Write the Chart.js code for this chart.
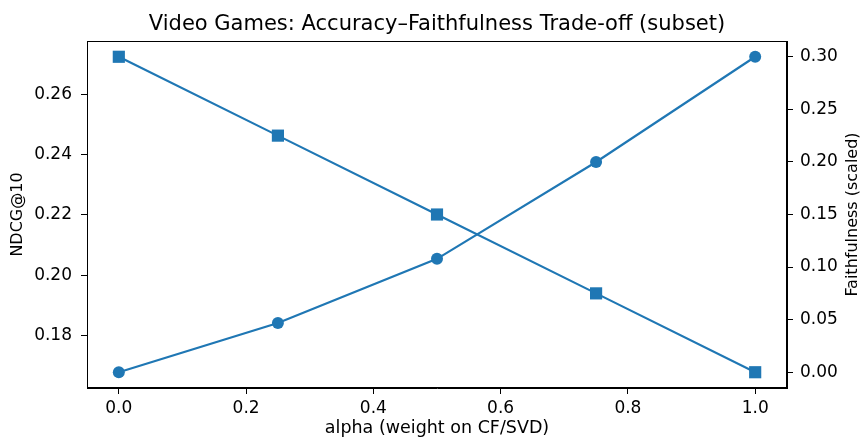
<!DOCTYPE html>
<html>
<head>
<meta charset="utf-8">
<script src="https://cdn.jsdelivr.net/npm/chart.js@4.4.1/dist/chart.umd.min.js"></script>
<style>
  html, body { margin: 0; padding: 0; background: #fff; }
  #wrap { width: 862px; height: 437px; }
</style>
</head>
<body>
<div id="wrap"><canvas id="c" width="862" height="437"></canvas></div>
<script>
const alphas = [0.0, 0.25, 0.5, 0.75, 1.0];
const ndcg = [0.1678, 0.1841, 0.2054, 0.2375, 0.2724];
const faithfulness = [0.30, 0.225, 0.15, 0.075, 0.00];
const xTicks = [0.0, 0.2, 0.4, 0.6, 0.8, 1.0];
const leftTicks = [0.18, 0.20, 0.22, 0.24, 0.26];
const rightTicks = [0.00, 0.05, 0.10, 0.15, 0.20, 0.25, 0.30];
const titleText = 'Video Games: Accuracy–Faithfulness Trade-off (subset)';
const xLabel = 'alpha (weight on CF/SVD)';
const leftLabel = 'NDCG@10';
const rightLabel = 'Faithfulness (scaled)';

const BLUE = '#1f77b4';
const FONT = 'DejaVu Sans';
const TICK_SIZE = 17;
const LABEL_SIZE = 17.5;
const VLABEL_SIZE = 16;

function pad(arr, frac) {
  const mn = Math.min(...arr), mx = Math.max(...arr);
  const r = mx - mn;
  return [mn - r * frac, mx + r * frac];
}
const xr = pad(alphas, 0.05), lr = pad(ndcg, 0.05), rr = pad(faithfulness, 0.05);

const frame = {
  id: 'frame',
  afterDraw(chart) {
    const a = chart.chartArea, ctx = chart.ctx;
    ctx.save();
    ctx.strokeStyle = '#000';
    ctx.lineWidth = 1;
    ctx.strokeRect(Math.round(a.left) + 0.5, Math.round(a.top) + 0.5,
                   Math.round(a.right - a.left) - 1, Math.round(a.bottom - a.top) - 1);
    // right axis label, reading bottom-to-top like the reference
    ctx.fillStyle = '#000';
    ctx.font = VLABEL_SIZE + 'px "' + FONT + '"';
    ctx.textAlign = 'center';
    ctx.textBaseline = 'middle';
    ctx.translate(853, (a.top + a.bottom) / 2);
    ctx.rotate(-Math.PI / 2);
    ctx.fillText(rightLabel, 0, 0);
    ctx.restore();
  }
};

function setTicks(list) { return (scale) => { scale.ticks = list.map(v => ({ value: v })); }; }

const gridOpts = { display: true, drawOnChartArea: false, drawTicks: true, tickLength: 6, color: '#000' };

new Chart(document.getElementById('c'), {
  type: 'line',
  data: {
    datasets: [
      {
        label: leftLabel,
        data: alphas.map((a, i) => ({ x: a, y: ndcg[i] })),
        yAxisID: 'y',
        borderColor: BLUE, backgroundColor: BLUE,
        borderWidth: 2.2, pointStyle: 'circle', pointRadius: 6,
        pointBorderWidth: 0, tension: 0
      },
      {
        label: rightLabel,
        data: alphas.map((a, i) => ({ x: a, y: faithfulness[i] })),
        yAxisID: 'y1',
        borderColor: BLUE, backgroundColor: BLUE,
        borderWidth: 2.2, pointStyle: 'rect', pointRadius: 8.6,
        pointBorderWidth: 0, tension: 0
      }
    ]
  },
  options: {
    responsive: false,
    animation: false,
    layout: { padding: 0 },
    plugins: {
      legend: { display: false },
      tooltip: { enabled: false },
      title: {
        display: true,
        fullSize: false,
        text: titleText,
        color: '#000',
        font: { family: FONT, size: 21, weight: 'normal', lineHeight: 1.2 },
        padding: { top: 12, bottom: 3.8 }
      }
    },
    scales: {
      x: {
        type: 'linear',
        min: xr[0], max: xr[1],
        afterBuildTicks: setTicks(xTicks),
        afterFit: (s) => { s.height = 49; },
        grid: gridOpts,
        border: { display: true, color: '#000', width: 1 },
        ticks: { color: '#000', font: { family: FONT, size: TICK_SIZE }, padding: 4, maxRotation: 0,
                 callback: (v) => Number(v).toFixed(1) },
        title: { display: true, text: xLabel, color: '#000',
                 font: { family: FONT, size: LABEL_SIZE, lineHeight: 1 }, padding: { top: 0, bottom: 0 } }
      },
      y: {
        type: 'linear', position: 'left',
        min: lr[0], max: lr[1],
        afterBuildTicks: setTicks(leftTicks),
        afterFit: (s) => { s.width = 87; },
        grid: gridOpts,
        border: { display: true, color: '#000', width: 1 },
        ticks: { color: '#000', font: { family: FONT, size: TICK_SIZE }, padding: 9,
                 callback: (v) => Number(v).toFixed(2) },
        title: { display: true, text: leftLabel, color: '#000',
                 font: { family: FONT, size: VLABEL_SIZE, lineHeight: 1 }, padding: { top: 10, bottom: 0 } }
      },
      y1: {
        type: 'linear', position: 'right',
        min: rr[0], max: rr[1],
        afterBuildTicks: setTicks(rightTicks),
        afterFit: (s) => { s.width = 75; },
        grid: gridOpts,
        border: { display: true, color: '#000', width: 1 },
        ticks: { color: '#000', font: { family: FONT, size: TICK_SIZE }, padding: 7,
                 callback: (v) => Number(v).toFixed(2) },
        title: { display: false }
      }
    }
  },
  plugins: [frame]
});
</script>
</body>
</html>
